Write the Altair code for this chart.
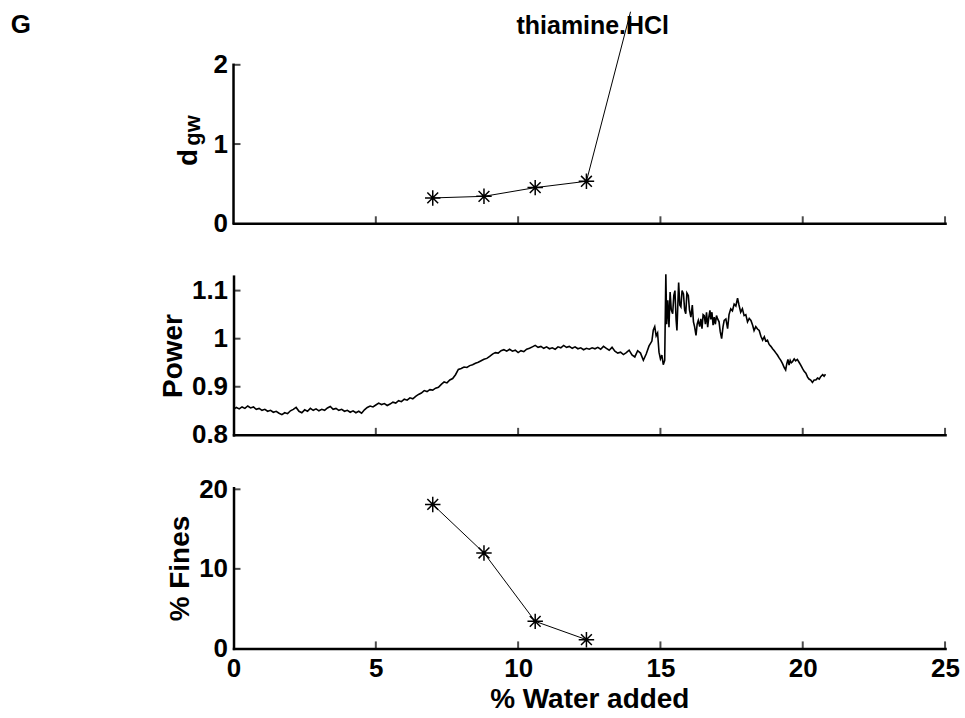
import altair as alt
import pandas as pd

FONT = "Liberation Sans"

# ---------------- data ----------------
water_pts = [7.0, 8.8, 10.6, 12.4]
dgw_vals = [0.32, 0.34, 0.45, 0.53]
dgw_line_x = [7.0, 8.8, 10.6, 12.4, 13.95]
dgw_line_y = [0.32, 0.34, 0.45, 0.53, 2.67]
fines_vals = [18.1, 12.0, 3.4, 1.1]

power_x = [
    0.0, 0.1, 0.2, 0.3, 0.4, 0.5, 0.6, 0.7, 0.8, 0.9,
    1.0, 1.1, 1.2, 1.3, 1.4, 1.5, 1.6, 1.7, 1.8, 1.9,
    2.0, 2.1, 2.2, 2.3, 2.4, 2.5, 2.6, 2.7, 2.8, 2.9,
    3.0, 3.1, 3.2, 3.3, 3.4, 3.5, 3.6, 3.7, 3.8, 3.9,
    4.0, 4.1, 4.2, 4.3, 4.4, 4.5, 4.6, 4.7, 4.8, 4.9,
    5.0, 5.1, 5.2, 5.3, 5.4, 5.5, 5.6, 5.7, 5.8, 5.9,
    6.0, 6.1, 6.2, 6.3, 6.4, 6.5, 6.6, 6.7, 6.8, 6.9,
    7.0, 7.1, 7.2, 7.3, 7.4, 7.5, 7.6, 7.7, 7.8, 7.9,
    8.0, 8.1, 8.2, 8.3, 8.4, 8.5, 8.6, 8.7, 8.8, 8.9,
    9.0, 9.1, 9.2, 9.3, 9.4, 9.5, 9.6, 9.7, 9.8, 9.9,
    10.0, 10.1, 10.2, 10.3, 10.4, 10.5, 10.6, 10.7, 10.8, 10.9,
    11.0, 11.1, 11.2, 11.3, 11.4, 11.5, 11.6, 11.7, 11.8, 11.9,
    12.0, 12.1, 12.2, 12.3, 12.4, 12.5, 12.6, 12.7, 12.8, 12.9,
    13.0, 13.1, 13.2, 13.3, 13.4, 13.5, 13.6, 13.7, 13.8, 13.9,
    14.0, 14.1, 14.2, 14.3, 14.4, 14.5, 14.6, 14.7, 14.75, 14.8,
    14.85, 14.9, 14.95, 15.0, 15.05, 15.1, 15.15, 15.19, 15.22, 15.26,
    15.3, 15.34, 15.38, 15.43, 15.47, 15.51, 15.55, 15.58, 15.62, 15.64,
    15.68, 15.72, 15.76, 15.81, 15.85, 15.89, 15.93, 15.98, 16.02, 16.07,
    16.12, 16.16, 16.2, 16.25, 16.29, 16.33, 16.38, 16.42, 16.46, 16.5,
    16.54, 16.58, 16.62, 16.66, 16.7, 16.74, 16.77, 16.81, 16.85, 16.89,
    16.93, 16.97, 17.01, 17.06, 17.1, 17.15, 17.2, 17.24, 17.3, 17.36,
    17.41, 17.47, 17.53, 17.59, 17.65, 17.71, 17.76, 17.82, 17.88, 17.94,
    18.0, 18.06, 18.12, 18.18, 18.24, 18.29, 18.35, 18.41, 18.47, 18.53,
    18.59, 18.65, 18.7, 18.76, 18.82, 18.88, 18.94, 19.0, 19.06, 19.11,
    19.17, 19.23, 19.29, 19.35, 19.4, 19.44, 19.48, 19.52, 19.56, 19.6,
    19.64, 19.7, 19.75, 19.81, 19.87, 19.93, 20.0, 20.05, 20.11, 20.17,
    20.22, 20.28, 20.34, 20.4, 20.46, 20.52, 20.58, 20.63, 20.7, 20.75,
    20.8,
]
power_y = [
    0.853, 0.857, 0.854, 0.858, 0.855, 0.860, 0.856, 0.858, 0.853, 0.855,
    0.851, 0.853, 0.849, 0.851, 0.847, 0.849, 0.845, 0.842, 0.846, 0.844,
    0.850, 0.853, 0.857, 0.849, 0.846, 0.852, 0.849, 0.855, 0.851, 0.854,
    0.850, 0.853, 0.851, 0.856, 0.859, 0.853, 0.855, 0.851, 0.853, 0.849,
    0.851, 0.847, 0.850, 0.846, 0.849, 0.845, 0.852, 0.857, 0.860, 0.858,
    0.862, 0.866, 0.863, 0.865, 0.861, 0.864, 0.868, 0.866, 0.871, 0.869,
    0.874, 0.872, 0.877, 0.875, 0.880, 0.884, 0.887, 0.892, 0.890, 0.894,
    0.893, 0.897, 0.899, 0.905, 0.910, 0.908, 0.914, 0.917, 0.925, 0.936,
    0.938, 0.941, 0.940, 0.944, 0.946, 0.949, 0.951, 0.954, 0.957, 0.959,
    0.963, 0.968, 0.971, 0.970, 0.975, 0.977, 0.974, 0.978, 0.974, 0.976,
    0.971, 0.975, 0.973, 0.978, 0.980, 0.983, 0.986, 0.982, 0.984, 0.980,
    0.983, 0.979, 0.981, 0.978, 0.983, 0.981, 0.986, 0.982, 0.984, 0.980,
    0.983, 0.979, 0.981, 0.977, 0.980, 0.978, 0.981, 0.979, 0.982, 0.978,
    0.984, 0.980, 0.976, 0.982, 0.974, 0.970, 0.972, 0.967, 0.971, 0.976,
    0.966, 0.962, 0.975, 0.970, 0.955, 0.968, 0.985, 0.995, 1.018, 1.025,
    1.006, 1.012, 0.972, 0.958, 0.966, 0.946, 0.955, 1.134, 1.030, 1.080,
    1.024, 1.097, 1.060, 1.052, 1.090, 1.100, 1.040, 1.017, 1.085, 1.117,
    1.070, 1.066, 1.100, 1.093, 1.060, 1.052, 1.095, 1.090, 1.060, 1.045,
    1.070, 1.035, 1.025, 1.007, 1.030, 1.038, 1.025, 1.041, 1.021, 1.050,
    1.048, 1.030, 1.055, 1.024, 1.045, 1.059, 1.040, 1.055, 1.028, 1.045,
    1.030, 1.048, 1.041, 1.035, 1.015, 1.000, 1.025, 1.038, 1.041, 1.021,
    1.050, 1.062, 1.058, 1.072, 1.068, 1.084, 1.070, 1.055, 1.062, 1.048,
    1.050, 1.035, 1.042, 1.038, 1.028, 1.017, 1.025, 1.020, 1.017, 1.005,
    0.997, 1.004, 0.995, 0.997, 0.988, 0.984, 0.979, 0.975, 0.970, 0.966,
    0.960, 0.955, 0.948, 0.940, 0.935, 0.948, 0.957, 0.945, 0.955, 0.950,
    0.952, 0.958, 0.954, 0.957, 0.951, 0.945, 0.937, 0.932, 0.928, 0.920,
    0.916, 0.914, 0.909, 0.914, 0.914, 0.918, 0.916, 0.921, 0.925, 0.922,
    0.926,
]

x_ticks = [0, 5, 10, 15, 20, 25]
dgw_ticks = [0, 1, 2]
power_ticks = [0.8, 0.9, 1.0, 1.1]
fines_ticks = [0, 10, 20]

panel_letter = "G"
panel_title = "thiamine.HCl"
x_title = "% Water added"

# ---------------- layout constants ----------------
W = 713
H_TOP = 212
H_MID = 159
H_BOT = 161
STAR = "M-1,0L1,0M0,-1L0,1M-0.7,-0.7L0.7,0.7M-0.7,0.7L0.7,-0.7"
LW = 2.5
TICK_LEN = 7
LABEL_FS = 26
TITLE_FS = 28


def xenc(last):
    return alt.X(
        "x:Q",
        scale=alt.Scale(domain=[0, 25], nice=False, zero=False),
        axis=alt.Axis(
            values=x_ticks,
            labels=last,
            labelFlush=False,
            ticks=False,
            grid=False,
            domain=True,
            domainWidth=LW,
            domainColor="black",
            domainCap="square",
            labelFontSize=LABEL_FS,
            labelPadding=7,
            format="d",
            title=x_title if last else None,
            titleFontSize=TITLE_FS,
            titlePadding=4,
        ),
    )


def yenc(domain, ticks, title, show_domain=True, fmt="~g"):
    ax = dict(
        values=ticks,
        ticks=False,
        grid=False,
        labelFlush=False,
        domain=show_domain,
        domainWidth=LW,
        domainColor="black",
        domainCap="square",
        labelFontSize=LABEL_FS,
        labelPadding=6,
        format=fmt,
        titleFontSize=TITLE_FS,
        titlePadding=4,
    )
    ax["title"] = title if title else None
    return alt.Y("y:Q", scale=alt.Scale(domain=domain, nice=False, zero=False), axis=alt.Axis(**ax))


def tick_layers(ymin, yticks, domain, axis_ticks, last, title=None, show_domain=True):
    xt = pd.DataFrame({"x": x_ticks[1:], "y": [ymin] * (len(x_ticks) - 1)})
    yt = pd.DataFrame({"x": [0] * len(yticks), "y": yticks})
    l1 = alt.Chart(xt).mark_tick(orient="vertical", size=TICK_LEN, thickness=2, color="black", yOffset=-TICK_LEN / 2).encode(
        x=xenc(last), y=yenc(domain, axis_ticks, title, show_domain)
    )
    l2 = alt.Chart(yt).mark_tick(orient="horizontal", size=TICK_LEN, thickness=2, color="black", xOffset=TICK_LEN / 2).encode(
        x=xenc(last), y=yenc(domain, axis_ticks, title, show_domain)
    )
    return [l1, l2]


one = pd.DataFrame({"k": [0]})
txt_kw = dict(font=FONT, fontWeight="bold", color="black")

# ---------------- top panel ----------------
top_dom = [0, 2.67]
top_line_df = pd.DataFrame({"x": dgw_line_x, "y": dgw_line_y})
top_pts_df = pd.DataFrame({"x": water_pts, "y": dgw_vals})
top_axis_df = pd.DataFrame({"x": [0], "y": [0], "y2": [2]})

top_y = yenc(top_dom, dgw_ticks, None, False)
top_line = alt.Chart(top_line_df).mark_line(color="black", strokeWidth=1).encode(x=xenc(False), y=top_y)
top_pts = alt.Chart(top_pts_df).mark_point(
    shape=STAR, size=240, filled=False, color="black", strokeWidth=1.5, opacity=1
).encode(x=xenc(False), y=top_y)
top_axis = alt.Chart(top_axis_df).mark_rule(color="black", strokeWidth=LW, strokeCap="square").encode(
    x=xenc(False), y=top_y, y2="y2:Q"
)
t_letter = alt.Chart(one).mark_text(fontSize=26, align="center", baseline="middle", **txt_kw).encode(
    x=alt.value(-213), y=alt.value(13), text=alt.value(panel_letter)
)
t_title = alt.Chart(one).mark_text(fontSize=25, align="center", baseline="middle", **txt_kw).encode(
    x=alt.value(360), y=alt.value(14), text=alt.value(panel_title)
)
t_d = alt.Chart(one).mark_text(fontSize=28, align="center", baseline="alphabetic", angle=270, **txt_kw).encode(
    x=alt.value(-37), y=alt.value(146), text=alt.value("d")
)
t_gw = alt.Chart(one).mark_text(fontSize=22, align="center", baseline="alphabetic", angle=270, **txt_kw).encode(
    x=alt.value(-34), y=alt.value(119), text=alt.value("gw")
)

top = alt.layer(
    top_axis,
    *tick_layers(0, [1, 2], top_dom, dgw_ticks, False, None, False),
    top_line, top_pts, t_letter, t_title, t_d, t_gw,
).properties(width=W, height=H_TOP)

# ---------------- middle panel ----------------
mid_dom = [0.8, 1.13]
mid_df = pd.DataFrame({"x": power_x, "y": power_y})
mid_line = alt.Chart(mid_df).mark_line(color="black", strokeWidth=1.6).encode(
    x=xenc(False), y=yenc(mid_dom, power_ticks, "Power")
)
mid = alt.layer(
    mid_line, *tick_layers(0.8, power_ticks[1:], mid_dom, power_ticks, False, "Power")
).properties(width=W, height=H_MID)

# ---------------- bottom panel ----------------
bot_dom = [0, 20.2]
bot_df = pd.DataFrame({"x": water_pts, "y": fines_vals})
bot_y = yenc(bot_dom, fines_ticks, "% Fines")
bot_line = alt.Chart(bot_df).mark_line(color="black", strokeWidth=1).encode(x=xenc(True), y=bot_y)
bot_pts = alt.Chart(bot_df).mark_point(
    shape=STAR, size=240, filled=False, color="black", strokeWidth=1.5, opacity=1
).encode(x=xenc(True), y=bot_y)
bot = alt.layer(
    bot_line, bot_pts, *tick_layers(0, fines_ticks[1:], bot_dom, fines_ticks, True, "% Fines")
).properties(width=W, height=H_BOT)

chart = (
    alt.vconcat(top, mid, bot, spacing=53, bounds="flush")
    .properties(padding={"left": 10, "top": 9, "right": 5, "bottom": 2}, background="white")
    .configure(font=FONT)
    .configure_axis(
        labelFont=FONT, titleFont=FONT, labelFontWeight="bold", titleFontWeight="bold",
        labelColor="black", titleColor="black",
    )
    .configure_view(stroke=None)
)

chart.save("out.html", embed_options={"renderer": "svg", "actions": False})
